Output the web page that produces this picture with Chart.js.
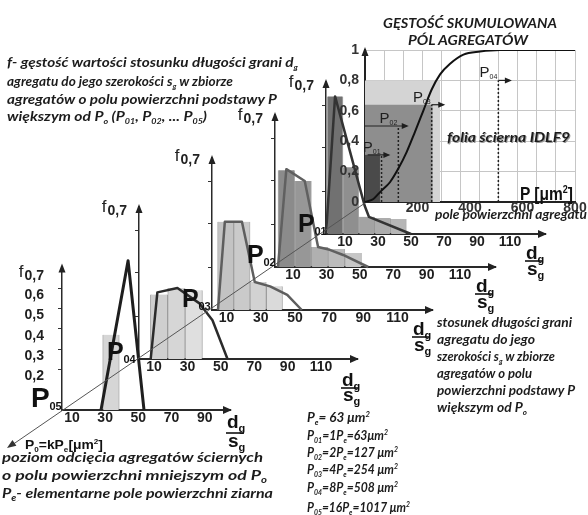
<!DOCTYPE html>
<html>
<head>
<meta charset="utf-8">
<script src="https://cdn.jsdelivr.net/npm/chart.js@4.4.1/dist/chart.umd.min.js"></script>
<style>
  html, body { margin: 0; padding: 0; background: #fff; }
  #stage { position: relative; width: 588px; height: 515px; overflow: hidden; }
  #stage canvas { position: absolute; }
  #notes { position: absolute; left: 0; top: 0; z-index: 10; }
  .t { font-family: Lato, 'Open Sans', sans-serif; font-weight: 700; font-style: italic; font-size: 14px; fill: #1c1c1c; }
  .a { font-family: 'Liberation Sans', Arial, sans-serif; font-weight: 700; fill: #111; }
</style>
</head>
<body>
<div id="stage">
  <svg id="notes" width="588" height="515" xmlns="http://www.w3.org/2000/svg">
    <line x1="365" y1="203" x2="12" y2="445" stroke="#555" stroke-width="1"/>
    <polygon points="7,448 16.4,445.8 12.4,440" fill="#333"/>
  </svg>
</div>
<script>
// cumulative density of aggregate base area (top right chart)
const areaP = [0, 32, 60, 95, 127, 159, 190, 222, 254, 286, 324, 375, 438, 514, 800];
const cumF = [0, 0.02, 0.07, 0.13, 0.22, 0.33, 0.46, 0.6, 0.74, 0.84, 0.91, 0.97, 0.99, 1, 1];
const areaTicks = [200, 400, 600, 800];

// cut-off levels marked on the cumulative curve
const levelNames = ['01', '02', '03', '04'];
const levelP = [63, 127, 254, 508];
const levelF = [0.31, 0.5, 0.64, 0.8];
const arrowFrom = [10, 0, 254, 508];
const arrowTo = [89, 159, 298, 552];

// shaded fields under the curve
const shadeP = [286, 258, 57];
const shadeF = [0.8, 0.64, 0.31];

// histograms of f(dg/sg) for the cut-off levels P01..P05
const ratioTicks = [10, 30, 50, 70, 90, 110];
const fTicks = [0.2, 0.3, 0.4, 0.5, 0.6];
const markTicks = [0.2, 0.4, 0.6];

const binsP01 = [4, 13.6, 23.2, 32.8, 42.4];
const fP01 = [0.64, 0.31, 0.08, 0.075, 0.07];
const polyXP01 = [-1.5, 4, 22, 24.5, 50];
const polyYP01 = [0, 0.64, 0.13, 0.08, 0];

const binsP02 = [6, 16, 26, 36, 46];
const fP02 = [0.45, 0.40, 0.093, 0.084, 0.065];
const polyXP02 = [1, 6, 17, 25, 32, 40, 55];
const polyYP02 = [0, 0.455, 0.40, 0.093, 0.08, 0.056, 0];

const binsP03 = [9.5, 19, 28.5, 38];
const fP03 = [0.41, 0.41, 0.13, 0.11];
const polyXP03 = [5, 9, 19, 26.5, 35.5, 45.5, 54];
const polyYP03 = [0, 0.41, 0.41, 0.13, 0.11, 0.07, 0];

const binsP04 = [13, 23.4, 33.8];
const fP04 = [0.30, 0.33, 0.32];
const polyXP04 = [8, 12, 24, 37, 45, 54];
const polyYP04 = [0, 0.31, 0.33, 0.26, 0.18, 0];

const binsP05 = [23.5, 33.5, 43.5];
const fP05 = [0, 0.37, 0];
const polyXP05 = [27.5, 43.8, 53.4];
const polyYP05 = [0, 0.735, 0];

Chart.defaults.font.family = "'Liberation Sans', Arial, sans-serif";
Chart.defaults.color = '#222';

const stage = document.getElementById('stage');
const notes = document.getElementById('notes');
const NS = 'http://www.w3.org/2000/svg';

// arrow heads on the axes and the "f0,7" caption
const axisArrows = {
    id: 'axisArrows',
    afterDraw(chart, args, o) {
        const { ctx, chartArea: a } = chart;
        ctx.save();
        ctx.fillStyle = '#222';
        if (o.x) {
            ctx.beginPath();
            ctx.moveTo(a.right + 2, a.bottom);
            ctx.lineTo(a.right - 7, a.bottom - 4);
            ctx.lineTo(a.right - 7, a.bottom + 4);
            ctx.closePath();
            ctx.fill();
        }
        if (o.y) {
            ctx.beginPath();
            ctx.moveTo(a.left, a.top - 3);
            ctx.lineTo(a.left - 3.5, a.top + 6);
            ctx.lineTo(a.left + 3.5, a.top + 6);
            ctx.closePath();
            ctx.fill();
        }
        if (o.fLabel) {
            ctx.textAlign = 'right';
            ctx.textBaseline = 'alphabetic';
            ctx.font = 'bold 14px "Liberation Sans"';
            const right = a.left - o.fLabel.dx;
            const base = a.top + o.fLabel.dy;
            ctx.fillText('0,7', right, base);
            const w = ctx.measureText('0,7').width;
            ctx.font = '17px "Liberation Sans"';
            ctx.fillText('f', right - w - 1, base - 3);
        }
        ctx.restore();
    }
};

// P0x labels and arrow heads on the cumulative chart
const levelMarks = {
    id: 'levelMarks',
    afterDatasetsDraw(chart) {
        const { ctx } = chart;
        const xs = chart.scales.x, ys = chart.scales.y;
        ctx.save();
        ctx.fillStyle = '#1e1e1e';
        levelNames.forEach((name, i) => {
            const y = ys.getPixelForValue(levelF[i]);
            const xe = xs.getPixelForValue(arrowTo[i]);
            ctx.beginPath();
            ctx.moveTo(xe + 2, y);
            ctx.lineTo(xe - 5, y - 3);
            ctx.lineTo(xe - 5, y + 3);
            ctx.closePath();
            ctx.fill();

            const xr = xs.getPixelForValue(levelP[i]) - 1;
            ctx.font = '7px "Liberation Sans"';
            const ws = ctx.measureText(name).width;
            ctx.font = '15px "Liberation Sans"';
            const wp = ctx.measureText('P').width;
            ctx.textAlign = 'left';
            ctx.fillText('P', xr - ws - wp, y - 3);
            ctx.font = '7px "Liberation Sans"';
            ctx.fillText(name, xr - ws, y - 1);
        });
        ctx.restore();
    }
};

function addCanvas(left, top, w, h) {
    const c = document.createElement('canvas');
    c.width = w;
    c.height = h;
    c.style.left = left + 'px';
    c.style.top = top + 'px';
    stage.insertBefore(c, notes);
    return c;
}

function drawCumulative() {
    const canvas = addCanvas(320, 0, 268, 230);
    const datasets = [];
    const shadeColors = ['#d4d4d4', '#8e8e8e', '#4a4a4a'];
    // lower order is drawn on top, so the biggest field goes first
    shadeP.forEach((p, i) => {
        datasets.push({
            data: [{ x: 0, y: shadeF[i] }, { x: p, y: shadeF[i] }],
            fill: 'origin', backgroundColor: shadeColors[i], borderWidth: 0, pointRadius: 0, order: 10 - i
        });
    });
    levelP.forEach((p, i) => {
        datasets.push({
            data: [{ x: p, y: 0 }, { x: p, y: levelF[i] }],
            borderColor: '#222', borderWidth: 1.5, borderDash: [2, 2], pointRadius: 0, order: 2
        });
        datasets.push({
            data: [{ x: arrowFrom[i], y: levelF[i] }, { x: arrowTo[i], y: levelF[i] }],
            borderColor: '#222', borderWidth: 1.2, pointRadius: 0, order: 2
        });
    });
    datasets.push({
        data: areaP.map((x, i) => ({ x, y: cumF[i] })),
        borderColor: '#111', borderWidth: 2, pointRadius: 0, cubicInterpolationMode: 'monotone', order: 1
    });

    new Chart(canvas, {
        type: 'line',
        data: { datasets: datasets.map(d => Object.assign({ xAxisID: 'x', yAxisID: 'y' }, d)) },
        options: {
            animation: false,
            responsive: false,
            layout: { autoPadding: false, padding: { top: 50, right: 13, left: 0, bottom: 0 } },
            plugins: { legend: { display: false }, tooltip: { enabled: false }, axisArrows: { y: true } },
            scales: {
                x: {
                    type: 'linear', min: 0, max: 800,
                    afterBuildTicks: s => { s.ticks = areaTicks.map(v => ({ value: v })); },
                    afterFit: s => { s.height = 28; },
                    grid: { display: false, drawTicks: false },
                    border: { color: '#222', width: 2 },
                    ticks: { padding: -1, maxRotation: 0, autoSkip: false, color: '#333', font: { size: 14, weight: 'bold', lineHeight: 1 } }
                },
                xg: {
                    type: 'linear', position: 'bottom', min: 0, max: 11,
                    afterFit: s => { s.height = 0; },
                    ticks: { display: false, stepSize: 1 },
                    grid: { color: '#c6c6c6', drawTicks: false },
                    border: { display: false }
                },
                y: {
                    min: 0, max: 1,
                    afterFit: s => { s.width = 45; },
                    grid: { color: '#c6c6c6', drawTicks: false },
                    border: { color: '#222', width: 2 },
                    ticks: {
                        stepSize: 0.1, padding: 6, color: '#333',
                        font: { size: 14, weight: 'bold' },
                        callback: v => {
                            const r = Math.round(v * 10);
                            if (r % 2) return '';
                            return r === 10 ? '1' : r === 0 ? '0' : (r / 10).toFixed(1).replace('.', ',');
                        }
                    }
                }
            }
        },
        plugins: [axisArrows, levelMarks]
    });
}

function drawPanel(p) {
    const padL = 48, padT = 14, padR = 12, padB = 50, H = 152;
    const yMax = H / 215;
    const canvas = addCanvas(p.ox - padL, p.oy - H - padT, padL + p.len + padR, padT + H + padB);
    new Chart(canvas, {
        type: 'bar',
        data: {
            datasets: [
                {
                    type: 'line',
                    data: p.px.map((x, i) => ({ x, y: p.py[i] })),
                    borderColor: p.line, borderWidth: p.width, borderJoinStyle: 'round',
                    pointRadius: 0, fill: false, clip: false, order: 1
                },
                {
                    type: 'bar',
                    data: p.bins.map((x, i) => ({ x, y: p.f[i] })),
                    backgroundColor: p.colors,
                    borderColor: 'rgba(70,70,70,0.45)',
                    borderWidth: { left: 1, right: 1, top: 0, bottom: 0 },
                    barPercentage: 1, categoryPercentage: 1, order: 2
                }
            ]
        },
        options: {
            animation: false,
            responsive: false,
            layout: { autoPadding: false, padding: { top: padT, right: padR, left: 0, bottom: 0 } },
            plugins: {
                legend: { display: false }, tooltip: { enabled: false },
                axisArrows: { x: true, y: true, fLabel: p.fLabel }
            },
            scales: {
                x: {
                    type: 'linear', offset: false, min: p.xMin, max: p.xMin + p.len / p.k,
                    afterBuildTicks: s => { s.ticks = ratioTicks.filter(v => v < s.max - 8).map(v => ({ value: v })); },
                    afterFit: s => { s.height = padB; },
                    grid: { display: false, drawTicks: false },
                    border: { color: '#2a2a2a', width: 2 },
                    ticks: { padding: 1, maxRotation: 0, autoSkip: false, color: '#1e1e1e', font: { size: 14, weight: 'bold', lineHeight: 1 } }
                },
                y: {
                    min: 0, max: yMax,
                    afterBuildTicks: s => { s.ticks = (p.labels ? fTicks : markTicks).map(v => ({ value: v })); },
                    afterFit: s => { s.width = padL; },
                    grid: { drawOnChartArea: false, tickLength: 4, color: '#333' },
                    border: { color: '#2a2a2a', width: 1.5 },
                    ticks: {
                        display: p.labels, padding: 14, labelOffset: 7, color: '#1e1e1e',
                        font: { size: 14, weight: 'bold' },
                        callback: v => v.toFixed(1).replace('.', ',')
                    }
                }
            }
        },
        plugins: [axisArrows]
    });
}

// small helper for svg captions, "_{..}" subscript, "^{..}" superscript
function addText(x, y, src, cls, len, size) {
    const t = document.createElementNS(NS, 'text');
    t.setAttribute('x', x);
    t.setAttribute('y', y);
    t.setAttribute('class', cls);
    if (size) t.setAttribute('font-size', size);
    if (len) {
        t.setAttribute('textLength', len);
        t.setAttribute('lengthAdjust', 'spacingAndGlyphs');
    }
    const fs = size || 14;
    let shift = 0;
    const push = (str, target, small) => {
        if (!str) return;
        const s = document.createElementNS(NS, 'tspan');
        s.setAttribute('dy', target - shift);
        shift = target;
        if (small) s.setAttribute('font-size', Math.round(fs * 0.6));
        s.textContent = str;
        t.appendChild(s);
    };
    const re = /([_^])\{([^}]*)\}/g;
    let last = 0, m;
    while ((m = re.exec(src))) {
        push(src.slice(last, m.index), 0, false);
        push(m[2], m[1] === '_' ? Math.round(fs * 0.22) : -Math.round(fs * 0.38), true);
        last = re.lastIndex;
    }
    push(src.slice(last), 0, false);
    notes.appendChild(t);
    return t;
}

function levelLabel(x, y, name, size) {
    addText(x, y, 'P', 'a', null, size);
    addText(x + size * 0.66, y + 3, name, 'a', null, 11);
}

function fraction(x, yd, yl, ys) {
    addText(x, yd, 'd_{g}', 'a', null, 19);
    const l = document.createElementNS(NS, 'line');
    l.setAttribute('x1', x - 1); l.setAttribute('x2', x + 17);
    l.setAttribute('y1', yl); l.setAttribute('y2', yl);
    l.setAttribute('stroke', '#111'); l.setAttribute('stroke-width', 1.6);
    notes.appendChild(l);
    addText(x + 1, ys, 's_{g}', 'a', null, 19);
}

// back to front: P01 sits behind the cumulative chart labels
drawPanel({ ox: 326, oy: 234, len: 219, k: 1.65, xMin: -1.5, bins: binsP01, f: fP01, px: polyXP01, py: polyYP01,
    colors: ['#717171', '#8f8f8f', '#a3a3a3', '#acacac', '#b6b6b6'], line: '#333', width: 2.5, labels: false, fLabel: { dx: 12, dy: 8 } });
drawCumulative();
drawPanel({ ox: 275, oy: 267, len: 220, k: 1.67, xMin: -0.8, bins: binsP02, f: fP02, px: polyXP02, py: polyYP02,
    colors: ['#8b8b8b', '#979797', '#b0b0b0', '#bbbbbb', '#c6c6c6'], line: '#606060', width: 2.5, labels: false, fLabel: { dx: 12, dy: 8 } });
drawPanel({ ox: 212, oy: 310, len: 220, k: 1.71, xMin: 1.5, bins: binsP03, f: fP03, px: polyXP03, py: polyYP03,
    colors: ['#c3c3c3', '#cacaca', '#d2d2d2', '#dadada'], line: '#5e5e5e', width: 2.5, labels: false, fLabel: { dx: 12, dy: 6 } });
drawPanel({ ox: 139, oy: 359, len: 218, k: 1.67, xMin: 1, bins: binsP04, f: fP04, px: polyXP04, py: polyYP04,
    colors: ['#cfcfcf', '#d6d6d6', '#dfdfdf'], line: '#2b2b2b', width: 2.5, labels: false, fLabel: { dx: 12, dy: 8 } });
drawPanel({ ox: 62, oy: 410, len: 168, k: 1.66, xMin: 4, bins: binsP05, f: fP05, px: polyXP05, py: polyYP05,
    colors: ['#d6d6d6', '#d6d6d6', '#d6d6d6'], line: '#1e1e1e', width: 3, labels: true, fLabel: { dx: 18, dy: 14 } });

// captions
addText(7, 67, 'f- gęstość wartości stosunku długości grani d_{g}', 't', 291);
addText(7, 86, 'agregatu do jego szerokości s_{g} w zbiorze', 't', 226);
addText(7, 104, 'agregatów o polu powierzchni podstawy P', 't', 270);
addText(7, 121, 'większym od P_{o} (P_{01}, P_{02}, ... P_{05})', 't', 200);

addText(437, 327, 'stosunek długości grani', 't', 135);
addText(437, 344, 'agregatu do jego', 't', 98);
addText(437, 361, 'szerokości s_{g} w zbiorze', 't', 118);
addText(437, 378, 'agregatów o polu', 't', 95);
addText(437, 395, 'powierzchni podstawy P', 't', 138);
addText(437, 412, 'większym od P_{o}', 't', 90);

addText(307, 422, 'P_{e}= 63 μm^{2}', 't', 63);
addText(307, 440, 'P_{01}=1P_{e}=63μm^{2}', 't', 81);
addText(307, 457, 'P_{02}=2P_{e}=127 μm^{2}', 't', 91);
addText(307, 474, 'P_{03}=4P_{e}=254 μm^{2}', 't', 91);
addText(307, 492, 'P_{04}=8P_{e}=508 μm^{2}', 't', 91);
addText(307, 512, 'P_{05}=16P_{e}=1017 μm^{2}', 't', 103);

addText(2, 462, 'poziom odcięcia agregatów ściernych', 't', 261, 15);
addText(2, 480, 'o polu powierzchni mniejszym od P_{o}', 't', 265, 15);
addText(2, 498, 'P_{e}- elementarne pole powierzchni ziarna', 't', 271, 15);

addText(383, 28, 'GĘSTOŚĆ SKUMULOWANA', 't', 174, 15);
addText(408, 45, 'PÓL AGREGATÓW', 't', 120, 15);
addText(448, 143, 'folia ścierna IDLF9', 't', 123, 17).setAttribute('style', 'fill:#999');
addText(447, 142, 'folia ścierna IDLF9', 't', 123, 17);
addText(435, 219, 'pole powierzchni agregatu', 't', 152, 13);
addText(520, 200, 'P [μm^{2}]', 'a', 53, 19).setAttribute('font-weight', 400);
addText(25, 449, 'P_{0}=kP_{e}[μm^{2}]', 'a', 78, 12);

levelLabel(31, 407, '05', 28);
levelLabel(107, 360, '04', 25);
levelLabel(182, 307, '03', 25);
levelLabel(247, 263, '02', 25);
levelLabel(298, 232, '01', 25);

fraction(526, 259, 261, 275);
fraction(476, 292, 294, 308);
fraction(413, 335, 337, 351);
fraction(342, 386, 388, 401);
fraction(227, 428, 433, 447);
</script>
</body>
</html>
